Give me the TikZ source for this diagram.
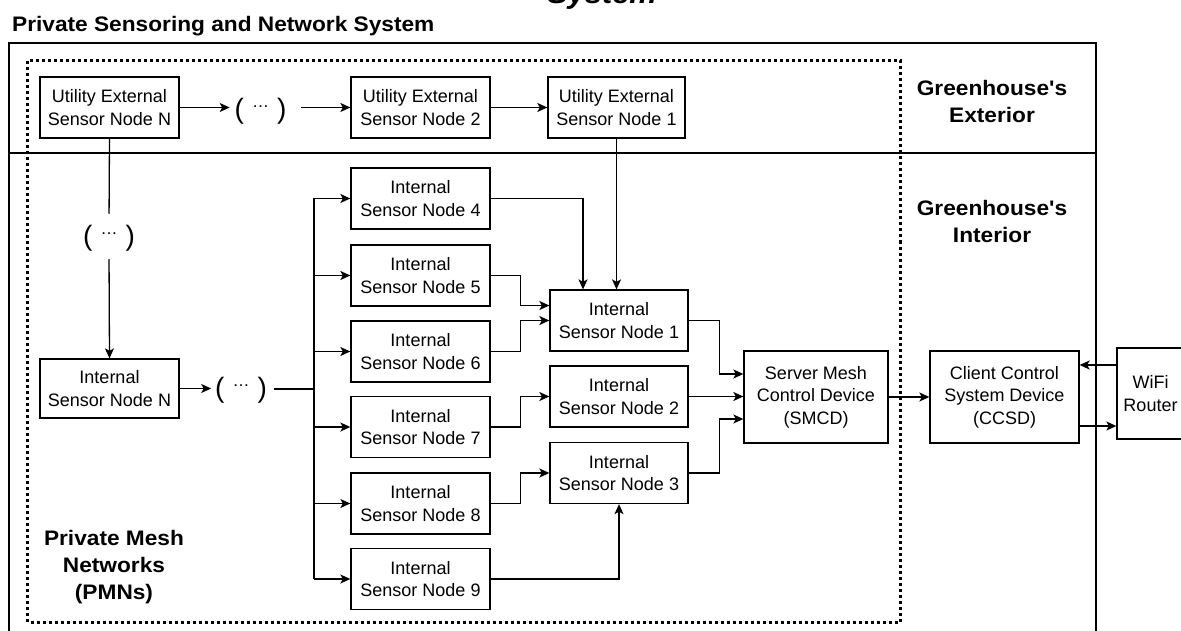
\documentclass[tikz,border=0pt]{standalone}
\usepackage{fontspec}
\setmainfont{Liberation Sans}
\newfontfamily\headfont{Liberation Sans}[FakeStretch=1.08]
\usetikzlibrary{arrows.meta,calc}
\newcommand{\elide}{(\hspace{8pt}\raisebox{11pt}{\fontsize{17}{17}\selectfont …}\hspace{8pt})}
\begin{document}
\begin{tikzpicture}[x=1pt,y=-1pt,
  nodebox/.style={draw, line width=1.3pt, inner sep=0pt, align=center,
    font=\fontsize{18}{22.5}\selectfont, minimum width=139pt, minimum height=61pt},
  ellip/.style={inner sep=0pt, outer sep=0pt, text height=20.5pt, text depth=6pt,
    font=\fontsize{28}{28}\selectfont},
  conn/.style={line width=1.3pt},
  arr/.style={conn, -{Stealth[length=10pt,width=9pt,inset=2.5pt]}},
  zone/.style={line width=2.2pt},
  mesh/.style={line width=3pt, dash pattern=on 3pt off 3pt},
  lab/.style={align=center, font=\headfont\bfseries\fontsize{21}{27}\selectfont}]

\useasboundingbox (0,0) rectangle (1181,631);
\clip (0,0) rectangle (1181,631);

% headings
\node[anchor=base west, inner sep=0pt, font=\headfont\bfseries\fontsize{21}{21}\selectfont] (title) at (12,32) {Private Sensoring and Network System};
\node[anchor=base, inner sep=0pt, font=\headfont\bfseries\itshape\fontsize{28.5}{28.5}\selectfont] (systop) at (602,4) {System};

% system frame, exterior/interior split and mesh network area
\draw[zone] (9,43) rectangle (1096,660);
\draw[zone] (9,153) -- (1096,153);
\draw[mesh] (27.5,61) rectangle (900,622);

\node[lab] (ext) at (992,101) {Greenhouse's\\Exterior};
\node[lab] (int) at (992,221.5) {Greenhouse's\\Interior};
\node[lab] (pmn) at (114,567) {Private Mesh\\Networks\\(PMNs)};

% utility external sensor nodes
\node[nodebox] (uN) at (109.5,107.5) {Utility External\\Sensor Node N};
\node[ellip] (dotsA) at (260.5,111) {\elide};
\node[nodebox] (u2) at (420.5,107.5) {Utility External\\Sensor Node 2};
\node[nodebox, minimum width=137pt] (u1) at (616.5,107.5) {Utility External\\Sensor Node 1};

% internal sensor nodes
\node[ellip] (dotsV) at (109,238) {\elide};
\node[nodebox, minimum height=59pt] (iN) at (109.5,388.5) {Internal\\Sensor Node N};
\node[ellip] (dotsH) at (241,390) {\elide};

\node[nodebox] (i4) at (420.5,198.5) {Internal\\Sensor Node 4};
\node[nodebox] (i5) at (420.5,275.5) {Internal\\Sensor Node 5};
\node[nodebox] (i6) at (420.5,351.5) {Internal\\Sensor Node 6};
\node[nodebox] (i7) at (420.5,427) {Internal\\Sensor Node 7};
\node[nodebox] (i8) at (420.5,503.5) {Internal\\Sensor Node 8};
\node[nodebox] (i9) at (420.5,579) {Internal\\Sensor Node 9};

\node[nodebox, minimum width=138pt] (i1) at (619,320.5) {Internal\\Sensor Node 1};
\node[nodebox, minimum width=138pt] (i2) at (619,396.5) {Internal\\Sensor Node 2};
\node[nodebox, minimum width=138pt] (i3) at (619,473) {Internal\\Sensor Node 3};

% devices
\node[nodebox, minimum width=144pt, minimum height=92pt] (smcd) at (816,397) {Server Mesh\\Control Device\\(SMCD)};
\node[nodebox, minimum width=149pt, minimum height=92pt] (ccsd) at (1004.5,397) {Client Control\\System Device\\(CCSD)};
\node[nodebox, minimum width=67pt, minimum height=91pt] (wifi) at (1150.5,393.5) {WiFi\\Router};

% exterior chain
\draw[arr, shorten >=5pt] (uN.east) -- (uN.east -| dotsA.west);
\draw[arr, shorten <=15pt] (dotsA.east |- u2.west) -- (u2.west);
\draw[arr] (u2) -- (u1);

% exterior to interior
\draw[conn, shorten >=11pt] (uN.south) -- (dotsV.north);
\draw[arr, shorten <=8pt] (dotsV.south) -- (iN.north);
\draw[arr] (u1.south) -- (u1.south |- i1.north);

% internal distribution bus
\coordinate (bus) at (314,389);
\draw[arr, shorten >=4pt] (iN.east) -- (iN.east -| dotsH.west);
\draw[conn, shorten <=7pt] (dotsH.east |- bus) -- (bus);
\draw[conn] (bus |- i4) -- (bus |- i9);
\foreach \n in {i4,i5,i6,i7,i8,i9}
  \draw[arr] (bus |- \n) -- (\n.west);

% mesh links
\draw[arr] (i4.east) -| ([xshift=-36pt]i1.north);
\draw[arr] (i5.east) -- ++(30,0) |- ([yshift=15pt]i1.west);
\draw[arr] (i6.east) -- ++(30,0) |- (i1.west);
\draw[arr] (i7.east) -- ++(30,0) |- (i2.west);
\draw[arr] (i8.east) -- ++(30,0) |- (i3.west);
\draw[arr] (i9.east) -| (i3.south);

% to the server and beyond
\draw[arr] (i1.east) -- ++(31,0) |- ([yshift=23pt]smcd.west);
\draw[arr] (i2.east) -- (smcd.west |- i2.east);
\draw[arr] (i3.east) -- ++(31,0) |- ([yshift=-22pt]smcd.west);
\draw[arr] (smcd) -- (ccsd);
\coordinate (wifiOut) at ([yshift=28.5pt]wifi.west);
\coordinate (ccsdOut) at ([yshift=-29pt]ccsd.east);
\draw[arr] (wifiOut) -- (ccsd.east |- wifiOut);
\draw[arr] (ccsdOut) -- (wifi.west |- ccsdOut);
\end{tikzpicture}
\end{document}
